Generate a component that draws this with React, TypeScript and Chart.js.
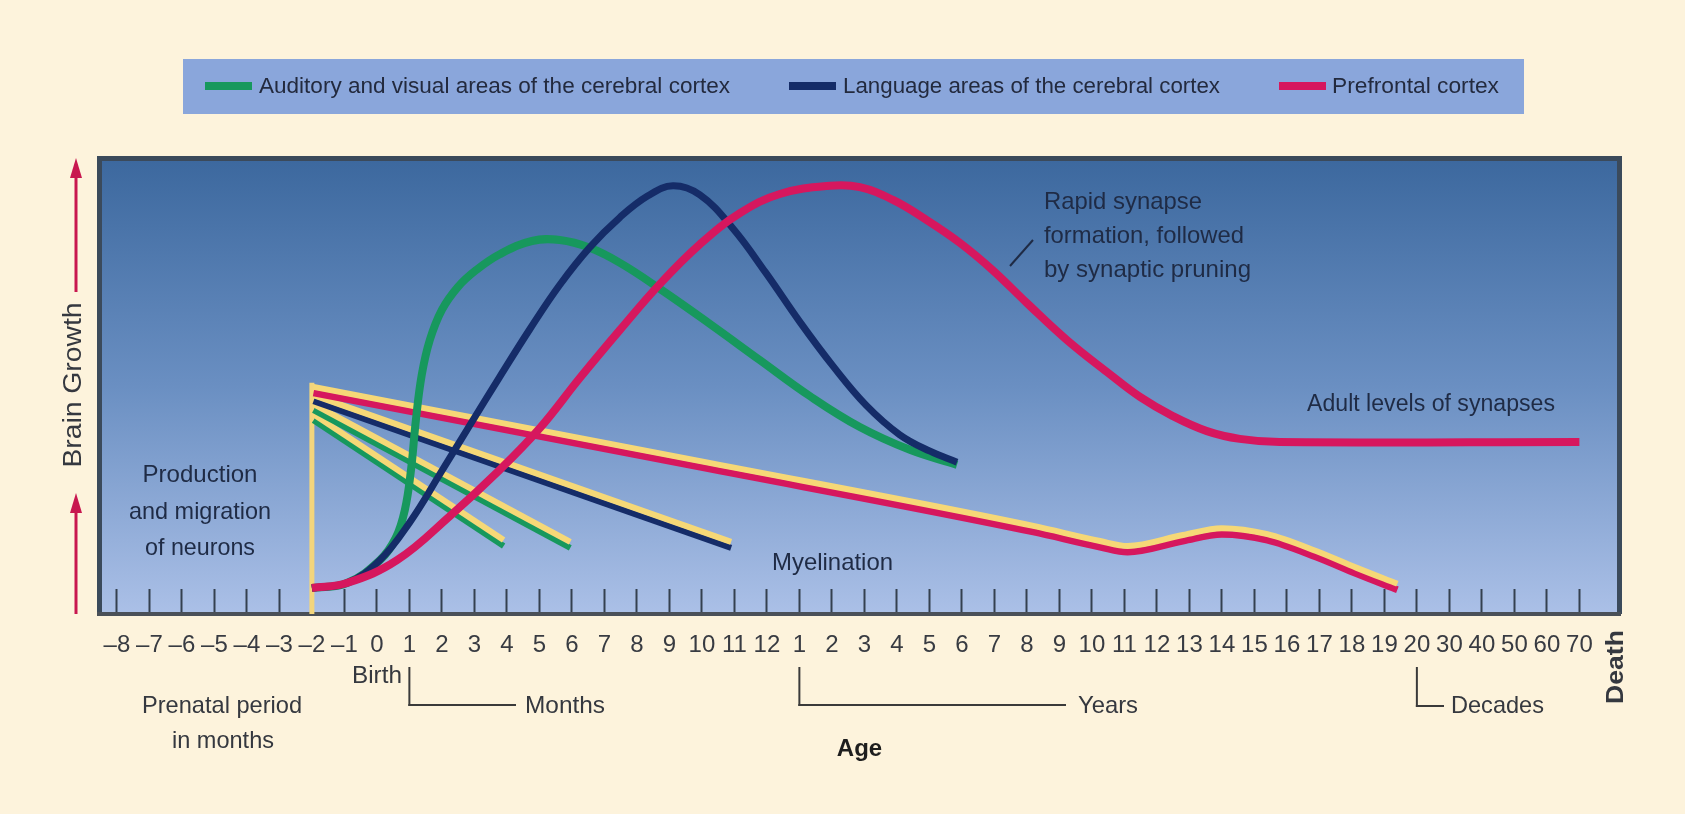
import React, { useEffect, useRef } from 'react';
import { Chart, registerables } from 'chart.js';

Chart.register(...registerables);

// ---------- tick labels (positions 0..45 on the age axis) ----------
const prenatalMonths = ['–8', '–7', '–6', '–5', '–4', '–3', '–2', '–1'];
const monthsLabels = ['0', '1', '2', '3', '4', '5', '6', '7', '8', '9', '10', '11', '12'];
const yearsLabels = ['1', '2', '3', '4', '5', '6', '7', '8', '9', '10', '11', '12', '13', '14', '15', '16', '17', '18', '19'];
const decadesLabels = ['20', '30', '40', '50', '60', '70'];
const tickLabels = [...prenatalMonths, ...monthsLabels, ...yearsLabels, ...decadesLabels];

// ---------- series (x = position on the age axis, y = relative brain growth) ----------
const auditoryAge = [6.0, 7.08, 8.09, 8.58, 8.86, 9.05, 9.2, 9.38, 9.63, 10.0, 10.49, 11.05, 11.78, 12.77, 13.63, 14.55, 15.48, 16.71, 18.25, 19.78, 21.32, 22.86, 24.4, 25.85];
const auditoryLevel = [5.7, 6.8, 11.8, 16.7, 22.8, 31.6, 42.5, 52.4, 60.1, 66.7, 71.7, 75.4, 78.9, 81.8, 82.0, 80.3, 77.0, 71.3, 63.6, 55.7, 47.8, 41.0, 36.0, 32.7];

const languageAge = [6.0, 7.08, 8.09, 9.02, 9.94, 10.86, 11.78, 12.71, 13.63, 14.55, 15.48, 16.34, 17.11, 17.94, 18.95, 19.97, 21.02, 22.03, 23.05, 24.09, 25.02, 25.85];
const languageLevel = [5.7, 6.8, 11.8, 20.2, 30.7, 41.4, 52.0, 62.5, 72.2, 80.4, 87.0, 91.7, 93.9, 91.9, 84.6, 74.8, 64.0, 54.4, 45.8, 39.3, 35.7, 33.3];

const prefrontalAge = [6.0, 7.08, 8.62, 10.25, 11.78, 13.02, 14.25, 15.48, 16.71, 17.94, 19.17, 20.4, 21.94, 22.86, 23.88, 24.92, 25.94, 26.95, 28.0, 29.23, 30.46, 31.48, 32.49, 33.54, 34.55, 35.78, 45.0];
const prefrontalLevel = [5.7, 6.8, 11.8, 21.5, 31.6, 40.8, 51.8, 62.3, 72.4, 81.1, 87.9, 92.1, 93.9, 93.6, 90.8, 86.4, 81.4, 75.4, 68.2, 60.1, 53.1, 47.6, 43.4, 40.1, 38.4, 37.7, 37.7];

const myelinPrefrontalAge = [6.05, 17.95, 28.2, 30.25, 31.1, 32.8, 34.0, 35.4, 36.9, 38.15, 39.4];
const myelinPrefrontalLevel = [48.5, 32.2, 18.0, 14.7, 13.6, 16.0, 17.5, 16.2, 12.5, 8.8, 5.3];

const myelinLanguageAge = [6.05, 18.9];
const myelinLanguageLevel = [46.7, 14.5];

const myelinAuditoryLateAge = [6.05, 13.95];
const myelinAuditoryLateLevel = [44.7, 14.5];

const myelinAuditoryEarlyAge = [6.05, 11.9];
const myelinAuditoryEarlyLevel = [42.5, 14.9];

const prenatalMarkerAge = [6.0, 6.0];
const prenatalMarkerLevel = [0, 50.7];

// ---------- styling ----------
const GREEN = '#17985d';
const NAVY = '#152c68';
const PINK = '#d6175e';
const YELLOW = '#f6d877';
const FONT = "'Liberation Sans', Arial, Helvetica, sans-serif";
const LABEL_DARK = '#1f2b45';
const TEXT_GRAY = '#35383f';

const pts = (xs: number[], ys: number[]) => xs.map((x, i) => ({ x, y: ys[i] }));

function drawText(
  ctx: CanvasRenderingContext2D,
  s: string,
  x: number,
  y: number,
  o: { size: number; w?: number; align?: 'left' | 'center' | 'right'; weight?: string; color: string; rot?: number }
) {
  ctx.save();
  ctx.font = `${o.weight || 'normal'} ${o.size}px ${FONT}`;
  ctx.fillStyle = o.color;
  ctx.textBaseline = 'middle';
  ctx.textAlign = 'left';
  const natural = ctx.measureText(s).width;
  const w = o.w || natural;
  const sx = w / natural;
  ctx.translate(x, y);
  if (o.rot) ctx.rotate(o.rot);
  const align = o.align || 'left';
  const x0 = align === 'left' ? 0 : align === 'center' ? -w / 2 : -w;
  ctx.translate(x0, 0);
  ctx.scale(sx, 1);
  ctx.fillText(s, 0, 0);
  ctx.restore();
}

function line(ctx: CanvasRenderingContext2D, x1: number, y1: number, x2: number, y2: number, color: string, width: number) {
  ctx.save();
  ctx.strokeStyle = color;
  ctx.lineWidth = width;
  ctx.beginPath();
  ctx.moveTo(x1, y1);
  ctx.lineTo(x2, y2);
  ctx.stroke();
  ctx.restore();
}

function arrowUp(ctx: CanvasRenderingContext2D, x: number, tipY: number, color: string) {
  ctx.save();
  ctx.fillStyle = color;
  ctx.beginPath();
  ctx.moveTo(x, tipY);
  ctx.lineTo(x - 6, tipY + 20);
  ctx.lineTo(x + 6, tipY + 20);
  ctx.closePath();
  ctx.fill();
  ctx.restore();
}

const backgroundPlugin = {
  id: 'backgroundPlugin',
  beforeDraw(chart: any) {
    const { ctx, chartArea: a } = chart;
    ctx.save();
    ctx.fillStyle = '#fdf3dc';
    ctx.fillRect(0, 0, chart.width, chart.height);
    // legend panel
    ctx.fillStyle = '#8aa6db';
    ctx.fillRect(183, 59, 1341, 55);
    // plot area gradient
    const g = ctx.createLinearGradient(0, a.top, 0, a.bottom);
    g.addColorStop(0, '#3c689e');
    g.addColorStop(0.5, '#6a8fc2');
    g.addColorStop(1, '#abc0e7');
    ctx.fillStyle = g;
    ctx.fillRect(a.left, a.top, a.right - a.left, a.bottom - a.top);
    // frame
    ctx.fillStyle = '#3b4a5b';
    ctx.fillRect(a.left - 2, a.top - 2, 5, a.bottom - a.top + 2);
    ctx.fillRect(a.left - 2, a.top - 2, a.right - a.left + 4, 5);
    ctx.fillRect(a.right - 3, a.top - 2, 5, a.bottom - a.top + 2);
    ctx.restore();
  },
};

const shiftPlugin = {
  id: 'shiftPlugin',
  beforeDatasetDraw(chart: any, args: any) {
    const ds = chart.data.datasets[args.index];
    if (ds.shiftY) {
      chart.ctx.save();
      chart.ctx.translate(0, ds.shiftY);
    }
  },
  afterDatasetDraw(chart: any, args: any) {
    const ds = chart.data.datasets[args.index];
    if (ds.shiftY) chart.ctx.restore();
  },
};

const annotationPlugin = {
  id: 'annotationPlugin',
  afterDraw(chart: any) {
    const { ctx } = chart;
    const xs = chart.scales.x;

    // legend entries
    line(ctx, 205, 86, 252, 86, GREEN, 8);
    drawText(ctx, 'Auditory and visual areas of the cerebral cortex', 259, 87, { size: 22, w: 471, color: '#232a3e' });
    line(ctx, 789, 86, 836, 86, NAVY, 8);
    drawText(ctx, 'Language areas of the cerebral cortex', 843, 87, { size: 22, w: 377, color: '#232a3e' });
    line(ctx, 1279, 86, 1326, 86, PINK, 8);
    drawText(ctx, 'Prefrontal cortex', 1332, 87, { size: 22, w: 167, color: '#232a3e' });

    // vertical axis label with arrows
    const AR = '#c8174f';
    arrowUp(ctx, 76, 158, AR);
    line(ctx, 76, 172, 76, 292, AR, 3);
    drawText(ctx, 'Brain Growth', 74, 385, { size: 26, w: 165, align: 'center', color: TEXT_GRAY, rot: -Math.PI / 2 });
    arrowUp(ctx, 76, 493, AR);
    line(ctx, 76, 507, 76, 614, AR, 3);

    // in-plot annotations
    drawText(ctx, 'Production', 200, 475, { size: 24, w: 115, align: 'center', color: LABEL_DARK });
    drawText(ctx, 'and migration', 200, 512, { size: 24, w: 142, align: 'center', color: LABEL_DARK });
    drawText(ctx, 'of neurons', 200, 548, { size: 24, w: 110, align: 'center', color: LABEL_DARK });
    drawText(ctx, 'Myelination', 772, 563, { size: 24, w: 121, color: LABEL_DARK });
    drawText(ctx, 'Rapid synapse', 1044, 202, { size: 24, w: 158, color: LABEL_DARK });
    drawText(ctx, 'formation, followed', 1044, 236, { size: 24, w: 200, color: LABEL_DARK });
    drawText(ctx, 'by synaptic pruning', 1044, 270, { size: 24, w: 207, color: LABEL_DARK });
    line(ctx, 1010, 266, 1033, 240, LABEL_DARK, 2);
    drawText(ctx, 'Adult levels of synapses', 1307, 405, { size: 23, w: 248, color: LABEL_DARK });

    // below the axis
    const BR = '#3a3a3a';
    drawText(ctx, 'Birth', 352, 677, { size: 23, w: 50, color: TEXT_GRAY });
    const m = xs.getPixelForValue(9);
    line(ctx, m, 667, m, 706, BR, 2);
    line(ctx, m - 1, 705, 516, 705, BR, 2);
    drawText(ctx, 'Months', 525, 706, { size: 24, w: 80, color: TEXT_GRAY });
    const yv = xs.getPixelForValue(21);
    line(ctx, yv, 667, yv, 706, BR, 2);
    line(ctx, yv - 1, 705, 1066, 705, BR, 2);
    drawText(ctx, 'Years', 1078, 706, { size: 24, w: 60, color: TEXT_GRAY });
    const d = xs.getPixelForValue(40);
    line(ctx, d, 667, d, 707, BR, 2);
    line(ctx, d - 1, 706, 1444, 706, BR, 2);
    drawText(ctx, 'Decades', 1451, 706, { size: 24, w: 93, color: TEXT_GRAY });
    drawText(ctx, 'Prenatal period', 222, 706, { size: 24, w: 160, align: 'center', color: TEXT_GRAY });
    drawText(ctx, 'in months', 223, 741, { size: 24, w: 102, align: 'center', color: TEXT_GRAY });
    drawText(ctx, 'Death', 1616, 667, { size: 24, w: 74, align: 'center', weight: 'bold', color: TEXT_GRAY, rot: -Math.PI / 2 });
  },
};

export default function App() {
  const ref = useRef<HTMLCanvasElement>(null);

  useEffect(() => {
    document.body.style.margin = '0';
    document.body.style.background = '#fdf3dc';
    const curve = (label: string, xs: number[], ys: number[], color: string, width: number, order: number, extra: any = {}) => ({
      label,
      data: pts(xs, ys),
      borderColor: color,
      borderWidth: width,
      pointRadius: 0,
      fill: false,
      borderJoinStyle: 'round',
      order,
      ...extra,
    });
    const smooth = { tension: 0.4 };
    const mono = { cubicInterpolationMode: 'monotone' };

    const chart = new Chart(ref.current as HTMLCanvasElement, {
      type: 'line',
      data: {
        datasets: [
          curve('Prefrontal cortex', prefrontalAge, prefrontalLevel, PINK, 8, 1, smooth),
          curve('Language areas of the cerebral cortex', languageAge, languageLevel, NAVY, 7, 2, smooth),
          curve('Auditory and visual areas of the cerebral cortex', auditoryAge, auditoryLevel, GREEN, 8, 3, smooth),
          curve('Myelination (prefrontal) highlight', myelinPrefrontalAge, myelinPrefrontalLevel, YELLOW, 6, 14, { ...mono, shiftY: -6 }),
          curve('Myelination (prefrontal)', myelinPrefrontalAge, myelinPrefrontalLevel, PINK, 7, 15, mono),
          curve('Myelination (language) highlight', myelinLanguageAge, myelinLanguageLevel, YELLOW, 6, 16, { shiftY: -6 }),
          curve('Myelination (language)', myelinLanguageAge, myelinLanguageLevel, NAVY, 6, 17),
          curve('Myelination (auditory, late) highlight', myelinAuditoryLateAge, myelinAuditoryLateLevel, YELLOW, 6, 18, { shiftY: -6 }),
          curve('Myelination (auditory, late)', myelinAuditoryLateAge, myelinAuditoryLateLevel, GREEN, 6, 19),
          curve('Myelination (auditory, early) highlight', myelinAuditoryEarlyAge, myelinAuditoryEarlyLevel, YELLOW, 6, 20, { shiftY: -6 }),
          curve('Myelination (auditory, early)', myelinAuditoryEarlyAge, myelinAuditoryEarlyLevel, GREEN, 6, 21),
          curve('Prenatal marker', prenatalMarkerAge, prenatalMarkerLevel, '#f3d57c', 5, 30),
        ] as any,
      },
      options: {
        animation: false,
        responsive: false,
        devicePixelRatio: 1,
        events: [],
        layout: { padding: { left: 99, right: 65, top: 158, bottom: 0 } },
        plugins: {
          legend: { display: false },
          tooltip: { enabled: false },
        },
        scales: {
          x: {
            type: 'linear',
            min: -0.55,
            max: 46.25,
            afterBuildTicks: (s: any) => {
              s.ticks = tickLabels.map((_, i) => ({ value: i }));
            },
            afterFit: (s: any) => {
              s.height = 200;
            },
            ticks: {
              autoSkip: false,
              maxRotation: 0,
              minRotation: 0,
              padding: 42,
              color: '#383b42',
              font: { family: FONT, size: 24 },
              callback: (_v: any, i: number) => tickLabels[i],
            },
            grid: {
              drawOnChartArea: false,
              drawTicks: true,
              tickLength: -25,
              tickColor: '#34404f',
              tickWidth: 2,
            },
            border: { display: true, color: '#4a5058', width: 4 },
            title: {
              display: true,
              text: 'Age',
              color: '#1e1e1e',
              font: { family: FONT, size: 24, weight: 'bold' },
              padding: { top: 0, bottom: 50 },
            },
          },
          y: {
            type: 'linear',
            display: false,
            min: 0,
            max: 100,
          },
        },
      } as any,
      plugins: [backgroundPlugin, shiftPlugin, annotationPlugin],
    });
    return () => chart.destroy();
  }, []);

  return (
    <div style={{ width: 1685, height: 814 }}>
      <canvas ref={ref} width={1685} height={814} style={{ display: 'block' }} />
    </div>
  );
}
